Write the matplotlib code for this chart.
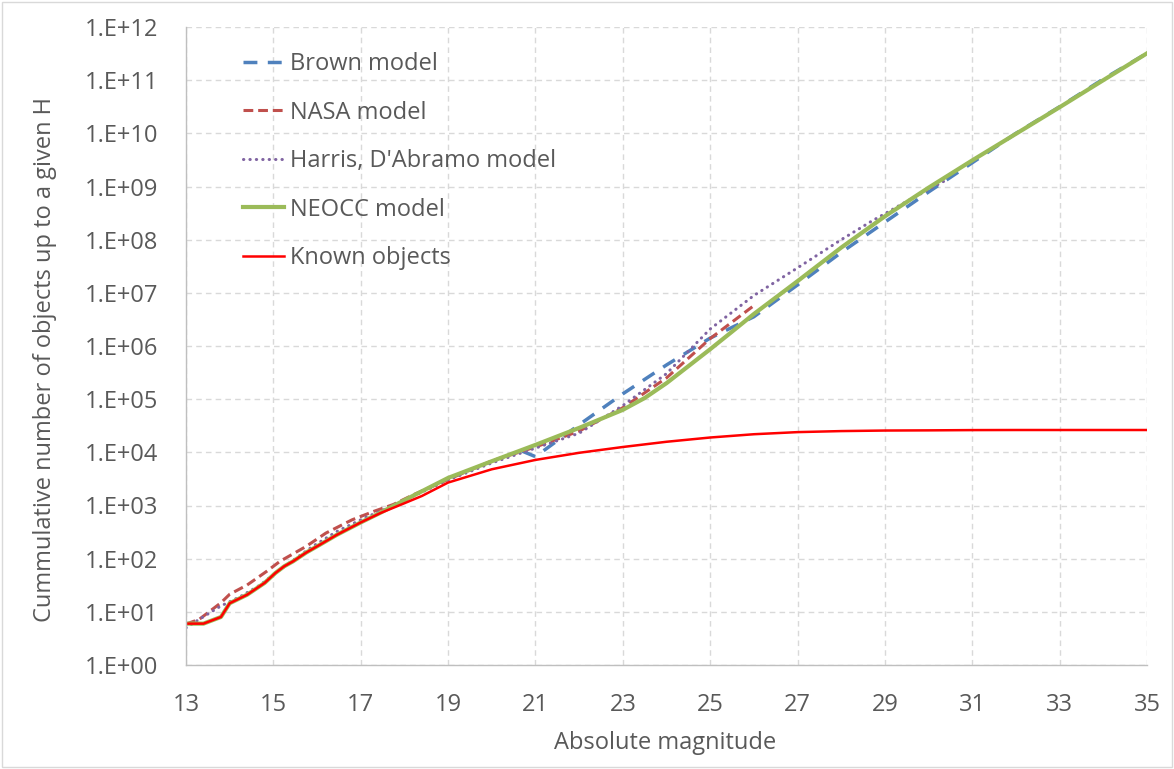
import matplotlib
matplotlib.use('Agg')
import matplotlib.pyplot as plt
from matplotlib.patches import Rectangle

plt.rcParams['font.family'] = ['Open Sans', 'DejaVu Sans']

# cumulative number of objects up to a given H
h_brown = [20.7, 21, 22, 23, 24, 25, 26, 27, 28, 29, 30, 31, 32, 33, 34, 35]
n_brown = [10500, 8300, 33000, 126000, 440000, 1.41e6, 3.55e6, 1.41e7, 5.75e7,
           2.14e8, 7.9e8, 2.8e9, 1.0e10, 3.16e10, 1.05e11, 3.2e11]

h_nasa = [13, 13.3, 13.8, 14, 14.4, 14.85, 15.15, 15.75, 16.2, 16.8, 17.3, 17.75,
          18.2, 19, 20, 21, 22, 23, 24, 25, 26]
n_nasa = [5.9, 7.2, 14.8, 21.4, 32, 58, 89, 170, 302, 537, 776, 1047,
          1585, 3090, 6900, 12600, 25100, 69000, 251000, 1.38e6, 5.75e6]

h_harris = [13, 13.3, 13.8, 14.25, 14.7, 15.1, 15.9, 16.45, 17.15, 17.45, 18, 19,
            20, 21, 22, 23, 24, 25, 26, 27, 28, 28.7, 29.5, 30.4]
n_harris = [5.0, 7.2, 12.9, 19.5, 32, 58, 170, 324, 617, 776, 1259, 3020,
            6310, 12000, 22900, 75900, 302000, 2.09e6, 8.9e6, 2.95e7, 1.0e8,
            2.24e8, 5.25e8, 1.32e9]

h_neocc = [13, 13.4, 13.8, 14, 14.4, 14.8, 15.05, 15.25, 15.45, 15.75, 16.05, 16.45,
           17, 17.45, 18, 19, 20, 21, 22, 23, 23.5, 24, 24.5, 25, 25.5, 26, 27,
           28, 29, 30, 31, 32, 33, 34, 35]
n_neocc = [6, 6, 8, 14.5, 21, 35, 54, 72, 89, 130, 180, 280,
           480, 730, 1260, 3300, 6800, 13800, 28800, 63000, 105000, 200000,
           417000, 870000, 1.86e6, 4.0e6, 1.66e7, 7.1e7, 2.75e8, 9.5e8, 3.1e9,
           9.8e9, 3.1e10, 1.0e11, 3.2e11]

h_known = [13, 13.4, 13.8, 14, 14.4, 14.8, 15.05, 15.25, 15.45, 15.75, 16.05, 16.45,
           17, 17.45, 17.9, 18.4, 19, 20, 21, 22, 23, 24, 25, 26, 27, 28, 29, 30,
           31, 32, 33, 34, 35]
n_known = [6, 6, 8, 14.5, 21, 35, 54, 72, 89, 130, 180, 280,
           480, 720, 1020, 1510, 2700, 4800, 7200, 9800, 12600, 15800, 19000,
           21900, 24000, 25100, 25700, 25900, 26200, 26300, 26300, 26300, 26300]

x_ticks = list(range(13, 36, 2))
y_exps = list(range(0, 13))
y_labels = [f'1.E+{e:02d}' for e in y_exps]

txt = '#595959'
fs = 17

fig = plt.figure(figsize=(11.74, 7.69), dpi=100)
fig.patches.append(Rectangle((0.002, 0.002), 0.996, 0.996, transform=fig.transFigure,
                             fill=False, edgecolor='#D9D9D9', lw=1))
ax = fig.add_axes([186 / 1174, 1 - 665 / 769, (1147 - 186) / 1174, (665 - 27) / 769])

ax.plot(h_brown, n_brown, color='#4F81BD', lw=2.5, dashes=(4, 3), label='Brown model')
ax.plot(h_nasa, n_nasa, color='#C0504D', lw=2.2, dashes=(3.2, 1.6), label='NASA model')
ax.plot(h_harris, n_harris, color='#8064A2', lw=2.2, linestyle=(0, (0.1, 2.0)),
        dash_capstyle='round', label="Harris, D'Abramo model")
ax.plot(h_neocc, n_neocc, color='#9BBB59', lw=3.0, label='NEOCC model')
ax.plot(h_known, n_known, color='#FF0000', lw=1.8, label='Known objects')

ax.set_yscale('log')
ax.set_xlim(13, 35)
ax.set_ylim(1, 1e12)
ax.set_xticks(x_ticks)
ax.set_xticklabels([str(t) for t in x_ticks])
ax.set_yticks([10.0 ** e for e in y_exps])
ax.set_yticklabels(y_labels)
ax.minorticks_off()
ax.tick_params(length=0, pad=20, labelsize=fs, labelcolor=txt)

ax.grid(True, color='#D9D9D9', lw=1, linestyle=(0, (4, 3)))
ax.set_axisbelow(True)
for s in ['top', 'right']:
    ax.spines[s].set_visible(False)
for s in ['left', 'bottom']:
    ax.spines[s].set_color('#BFBFBF')
    ax.spines[s].set_linewidth(1)

ax.legend(loc='upper left', bbox_to_anchor=(243 / 1174, 1 - 52 / 769),
          bbox_transform=fig.transFigure, frameon=False, fontsize=fs,
          handlelength=1.75, handletextpad=0.25, labelspacing=1.04,
          borderpad=0, borderaxespad=0, labelcolor=txt)

fig.text(665 / 1174, 1 - 743 / 769, 'Absolute magnitude', ha='center', va='center',
         fontsize=fs, color=txt)
fig.text(45 / 1174, 1 - 360 / 769, 'Cummulative number of objects up to a given H',
         ha='center', va='center', rotation=90, fontsize=fs, color=txt)

fig.savefig('out.png', dpi=100)
